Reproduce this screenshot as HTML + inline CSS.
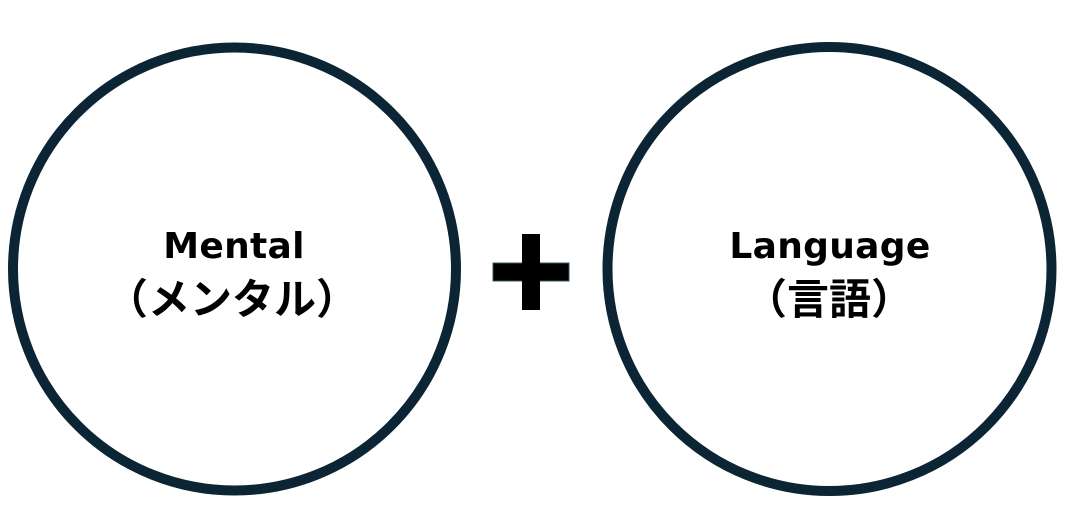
<!DOCTYPE html>
<html><head><meta charset="utf-8"><style>
body{margin:0;background:#fff;width:1074px;height:513px;overflow:hidden}
</style></head><body>
<svg width="1074" height="513" xmlns="http://www.w3.org/2000/svg">
<circle cx="234.5" cy="269" r="221.5" fill="#fff" stroke="#0b2535" stroke-width="10"/>
<circle cx="829.5" cy="269" r="222" fill="#fff" stroke="#0b2535" stroke-width="10"/>
<rect x="493" y="263" width="76" height="18" fill="#000" stroke="#3a5566" stroke-width="1"/>
<rect x="522" y="234" width="18" height="76" fill="#000"/>
<rect x="493.5" y="263.5" width="75" height="17" fill="#000"/>
<g font-family="DejaVu Sans, Noto Sans CJK JP, sans-serif" font-weight="bold" fill="#000" text-anchor="middle">
<text x="234" y="258" font-size="36" letter-spacing="0.3">Mental</text>
<text x="830" y="258" font-size="36" letter-spacing="0.3">Language</text>
</g>
<g font-family="Noto Sans CJK JP, sans-serif" font-weight="bold" fill="#000" text-anchor="middle" font-size="42">
<text x="232" y="314">（メンタル）</text>
<text x="829" y="314">（言語）</text>
</g>
</svg>
</body></html>
